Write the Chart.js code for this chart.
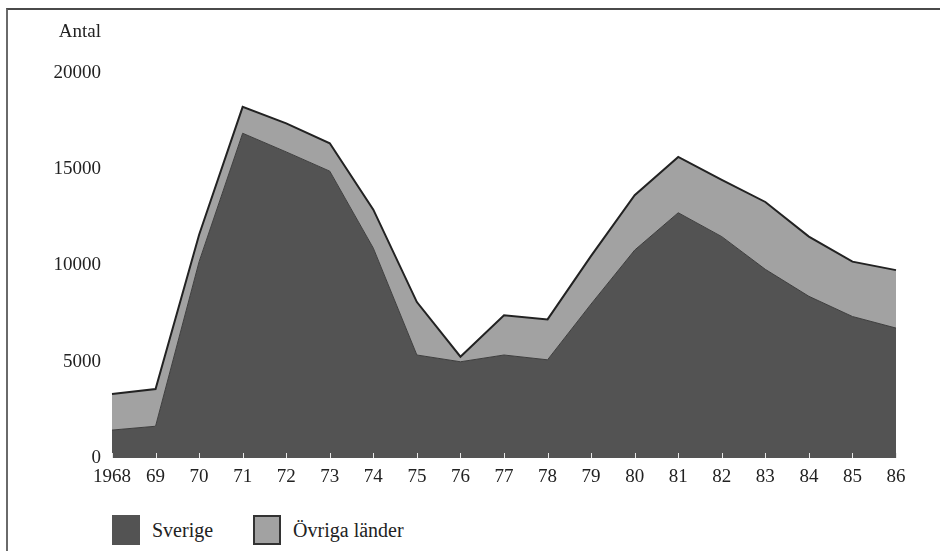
<!DOCTYPE html>
<html>
<head>
<meta charset="utf-8">
<script src="https://cdn.jsdelivr.net/npm/chart.js@4"></script>
<style>
  body { margin: 0; background: #fff; }
  #frame { position: absolute; left: 6px; top: 8px; width: 940px; height: 551px;
           border-top: 2px solid #4a4a4a; border-left: 2px solid #6a6a6a; }
  #chart { position: absolute; left: 0; top: 0; }
  #legend { position: absolute; left: 112px; top: 515px; display: flex; align-items: center;
            font-family: "Liberation Serif", "DejaVu Serif", serif; font-size: 20px; color: #222; }
  #legend .item { display: flex; align-items: center; margin-right: 40px; }
  #legend .box { width: 28px; height: 30px; margin-right: 12px; box-sizing: border-box; }
</style>
</head>
<body>
<div id="frame"></div>
<canvas id="chart" width="940" height="500"></canvas>
<div id="legend"></div>
<script>
// år (x-axeln)
const years = ['1968', '69', '70', '71', '72', '73', '74', '75', '76', '77',
               '78', '79', '80', '81', '82', '83', '84', '85', '86'];

// antal per år
const sverige = [1450, 1650, 10200, 16870, 15900, 14900, 10900, 5350, 5000, 5350,
                 5100, 8000, 10800, 12740, 11500, 9800, 8400, 7350, 6750];
const ovriga  = [1870, 1930, 1400, 1370, 1480, 1450, 2000, 2750, 260, 2070,
                 2100, 2500, 2850, 2900, 2950, 3500, 3100, 2850, 3010];

const yTicks = [0, 5000, 10000, 15000, 20000];

const FONT = '"Liberation Serif", "DejaVu Serif", serif';

// "Antal" ovanför y-axeln + små vita streck vid x-tickarna
const extras = {
    id: 'extras',
    afterDatasetsDraw(chart) {
        const { ctx, scales: { x, y } } = chart;
        ctx.save();
        ctx.strokeStyle = '#e8e8e8';
        ctx.lineWidth = 1;
        x.ticks.forEach((t, i) => {
            const px = Math.round(x.getPixelForTick(i)) + 0.5;
            ctx.beginPath();
            ctx.moveTo(px, y.bottom);
            ctx.lineTo(px, y.bottom - 5);
            ctx.stroke();
        });
        ctx.fillStyle = '#222';
        ctx.font = '19px ' + FONT;
        ctx.textAlign = 'right';
        ctx.textBaseline = 'middle';
        ctx.fillText('Antal', y.right - 11, y.getPixelForValue(yTicks[yTicks.length - 1]) - 41);
        ctx.restore();
    }
};

const chart = new Chart(document.getElementById('chart'), {
    type: 'line',
    data: {
        labels: years,
        datasets: [{
            label: 'Sverige',
            data: sverige,
            backgroundColor: '#535353',
            borderColor: '#3e3e3e',
            borderWidth: 1,
            fill: 'origin',
            pointRadius: 0
        }, {
            label: 'Övriga länder',
            data: ovriga,
            backgroundColor: '#a2a2a2',
            borderColor: '#222',
            borderWidth: 2,
            fill: '-1',
            pointRadius: 0
        }]
    },
    options: {
        responsive: false,
        animation: false,
        layout: { padding: { left: 0, right: 44, top: 73, bottom: 2 } },
        plugins: {
            legend: { display: false },
            tooltip: { enabled: false }
        },
        scales: {
            x: {
                offset: false,
                grid: { display: false, drawTicks: false },
                border: { display: false },
                ticks: { color: '#222', font: { family: FONT, size: 19 }, padding: 8, maxRotation: 0, autoSkip: false },
                afterFit: (s) => { s.height = 40; }
            },
            y: {
                stacked: true,
                min: 0,
                max: 20000,
                grid: { display: false, drawTicks: false },
                border: { display: false },
                afterBuildTicks: (s) => { s.ticks = yTicks.map(v => ({ value: v })); },
                ticks: {
                    color: '#222', font: { family: FONT, size: 19 }, padding: 11,
                    callback: (v) => String(v)
                },
                afterFit: (s) => { s.width = 112; }
            }
        }
    },
    plugins: [extras]
});

// legend i HTML, byggd från dataseten
const legend = document.getElementById('legend');
chart.data.datasets.forEach((ds, i) => {
    const item = document.createElement('div');
    item.className = 'item';
    const box = document.createElement('div');
    box.className = 'box';
    box.style.background = ds.backgroundColor;
    if (i === 1) box.style.border = '2px solid #333';
    item.appendChild(box);
    item.appendChild(document.createTextNode(ds.label));
    legend.appendChild(item);
});
</script>
</body>
</html>
